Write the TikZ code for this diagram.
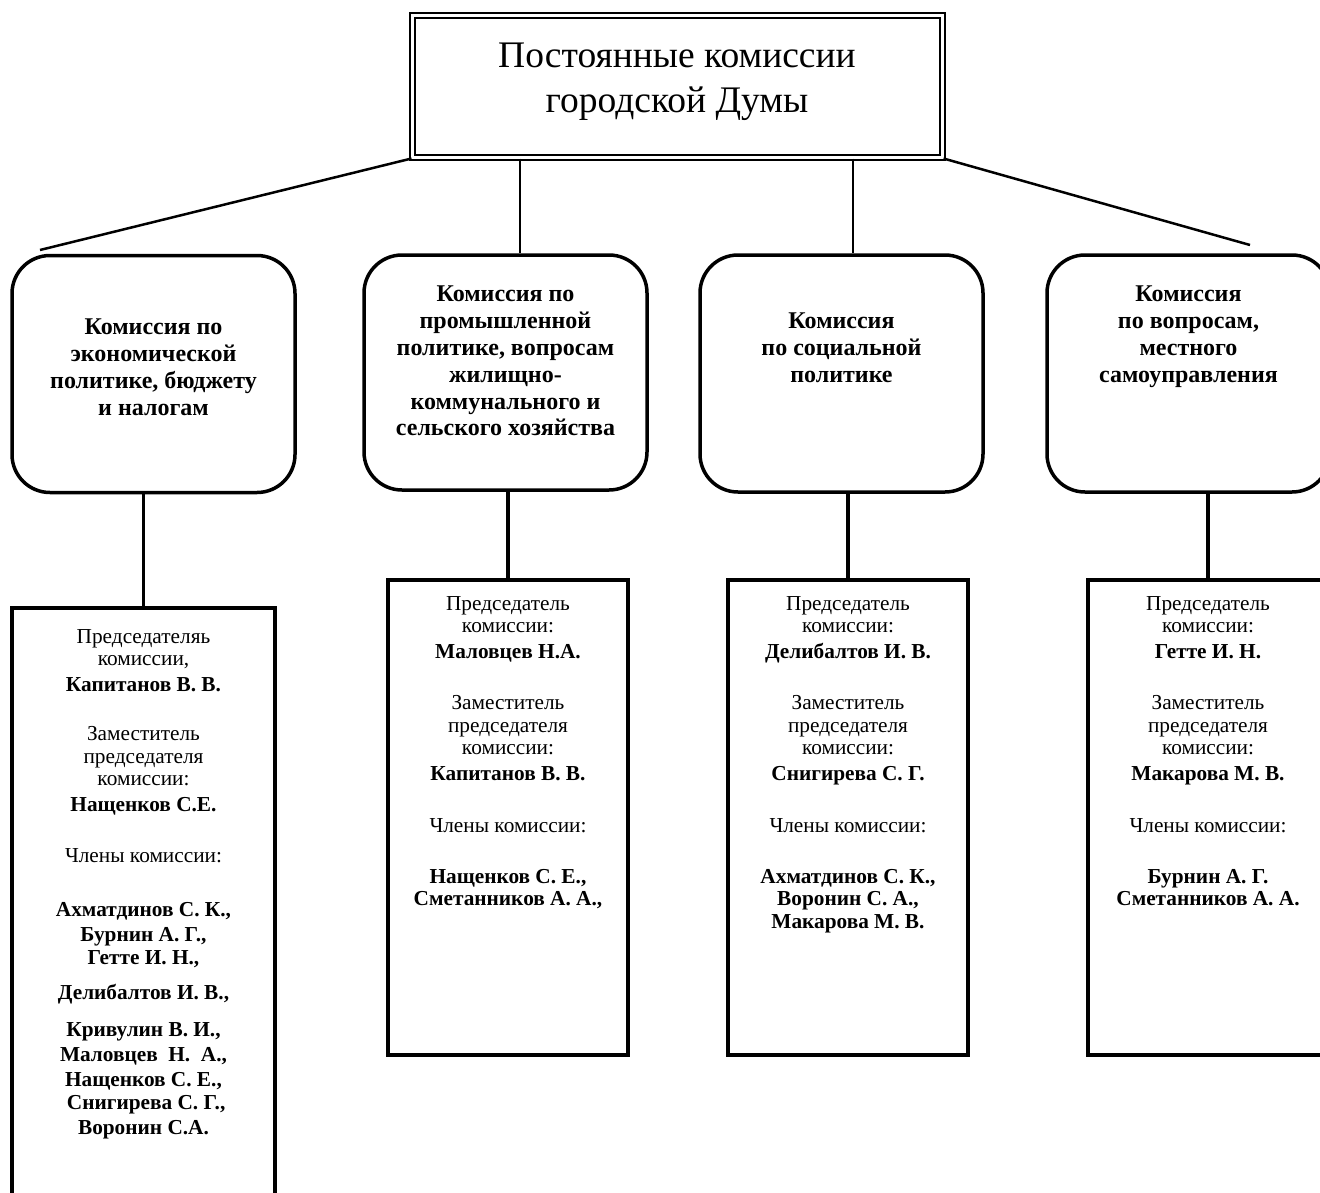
\documentclass[tikz,border=0pt]{standalone}
\usepackage{fontspec}
\setmainfont{Liberation Serif}
\begin{document}
\begin{tikzpicture}[x=1pt,y=-1pt,
  topbox/.style={draw, double, double distance=3pt, line width=2pt, minimum width=530pt, minimum height=142pt, inner sep=0pt},
  commbox/.style={draw, rounded corners=38pt, line width=3.5pt, minimum width=283pt, minimum height=237pt, inner sep=0pt},
  membox/.style={draw, line width=3.5pt, minimum width=240pt, inner sep=0pt},
  conn/.style={line width=2.5pt},
  conn2/.style={line width=3.5pt},
  titletext/.style={anchor=north, align=center, inner sep=0pt, font=\fontsize{37.5}{45}\selectfont},
  ctext/.style={anchor=north, align=center, inner sep=0pt, font=\fontsize{24}{26.8}\selectfont\bfseries},
  mtext/.style={anchor=north, align=center, inner sep=0pt, font=\fontsize{21.3}{22.5}\selectfont}]
\useasboundingbox (0,0) rectangle (1320,1192);

% top box
\node[topbox] (top) at (677.5,86.5) {};
\node[titletext] (title) at (677,43) {Постоянные комиссии\\городской Думы};

% commission boxes
\node[commbox] (c1) at (153.5,374) {};
\node[commbox, minimum height=235pt] (c2) at (505.5,372.5) {};
\node[commbox] (c3) at (841.5,373.5) {};
\node[commbox] (c4) at (1188.5,373.5) {};

\node[ctext] (t1) at (153.5,319) {Комиссия по\\экономической\\политике, бюджету\\и налогам};
\node[ctext] (t2) at (505.5,286) {Комиссия по\\промышленной\\политике, вопросам\\жилищно-\\коммунального и\\сельского хозяйства};
\node[ctext] (t3) at (841.5,313) {Комиссия\\по социальной\\политике};
\node[ctext] (t4) at (1188.5,286) {Комиссия\\по вопросам,\\местного\\самоуправления};

% connectors from top
\coordinate (lend) at (40,250);
\coordinate (rend) at (1250,245);
\draw[conn] (top.south west) -- (lend);
\draw[conn] (top.south east) -- (rend);
\draw[conn] (520,0 |- top.south) -- (520,0 |- c2.north);
\draw[conn] (853,0 |- top.south) -- (853,0 |- c3.north);

% member boxes
\node[membox, minimum width=263pt, minimum height=622pt] (m1) at (143.5,919) {};
\node[membox, minimum height=475pt] (m2) at (508,817.5) {};
\node[membox, minimum height=475pt] (m3) at (848,817.5) {};
\node[membox, minimum height=475pt] (m4) at (1208,817.5) {};

\draw[conn2] (m1.north |- c1.south) -- (m1.north);
\draw[conn2] (m2.north |- c2.south) -- (m2.north);
\draw[conn2] (m3.north |- c3.south) -- (m3.north);
\draw[conn2] (m4.north |- c4.south) -- (m4.north);

% member texts
\node[mtext] (x1) at (143.5,629) {Председателяь\\комиссии,\\[3pt]
\textbf{Капитанов В. В.}\\[27pt]
Заместитель\\председателя\\комиссии:\\[3pt]
\textbf{Нащенков С.Е.}\\[29pt]
Члены комиссии:\\[31pt]
\textbf{Ахматдинов С. К.,}\\[3pt]
\textbf{Бурнин А. Г.,}\\
\textbf{Гетте И. Н.,}\\[13pt]
\textbf{Делибалтов И. В.,}\\[14pt]
\textbf{Кривулин В. И.,}\\[2.5pt]
\textbf{Маловцев\ \ Н.\ \ А.,}\\[2.5pt]
\textbf{Нащенков С. Е.,}\\[1pt]
\textbf{\ Снигирева С. Г.,}\\[2.5pt]
\textbf{Воронин С.А.}};

\node[mtext] (x2) at (508,596) {Председатель\\комиссии:\\[3pt]
\textbf{Маловцев Н.А.}\\[29pt]
Заместитель\\председателя\\комиссии:\\[3pt]
\textbf{Капитанов В. В.}\\[30pt]
Члены комиссии:\\[28pt]
\textbf{Нащенков С. Е.,}\\
\textbf{Сметанников А. А.,}};

\node[mtext] (x3) at (848,596) {Председатель\\комиссии:\\[3pt]
\textbf{Делибалтов И. В.}\\[29pt]
Заместитель\\председателя\\комиссии:\\[3pt]
\textbf{Снигирева С. Г.}\\[30pt]
Члены комиссии:\\[28pt]
\textbf{Ахматдинов С. К.,}\\
\textbf{Воронин С. А.,}\\
\textbf{Макарова М. В.}};

\node[mtext] (x4) at (1208,596) {Председатель\\комиссии:\\[3pt]
\textbf{Гетте И. Н.}\\[29pt]
Заместитель\\председателя\\комиссии:\\[3pt]
\textbf{Макарова М. В.}\\[30pt]
Члены комиссии:\\[28pt]
\textbf{Бурнин А. Г.}\\
\textbf{Сметанников А. А.}};
\end{tikzpicture}
\end{document}
